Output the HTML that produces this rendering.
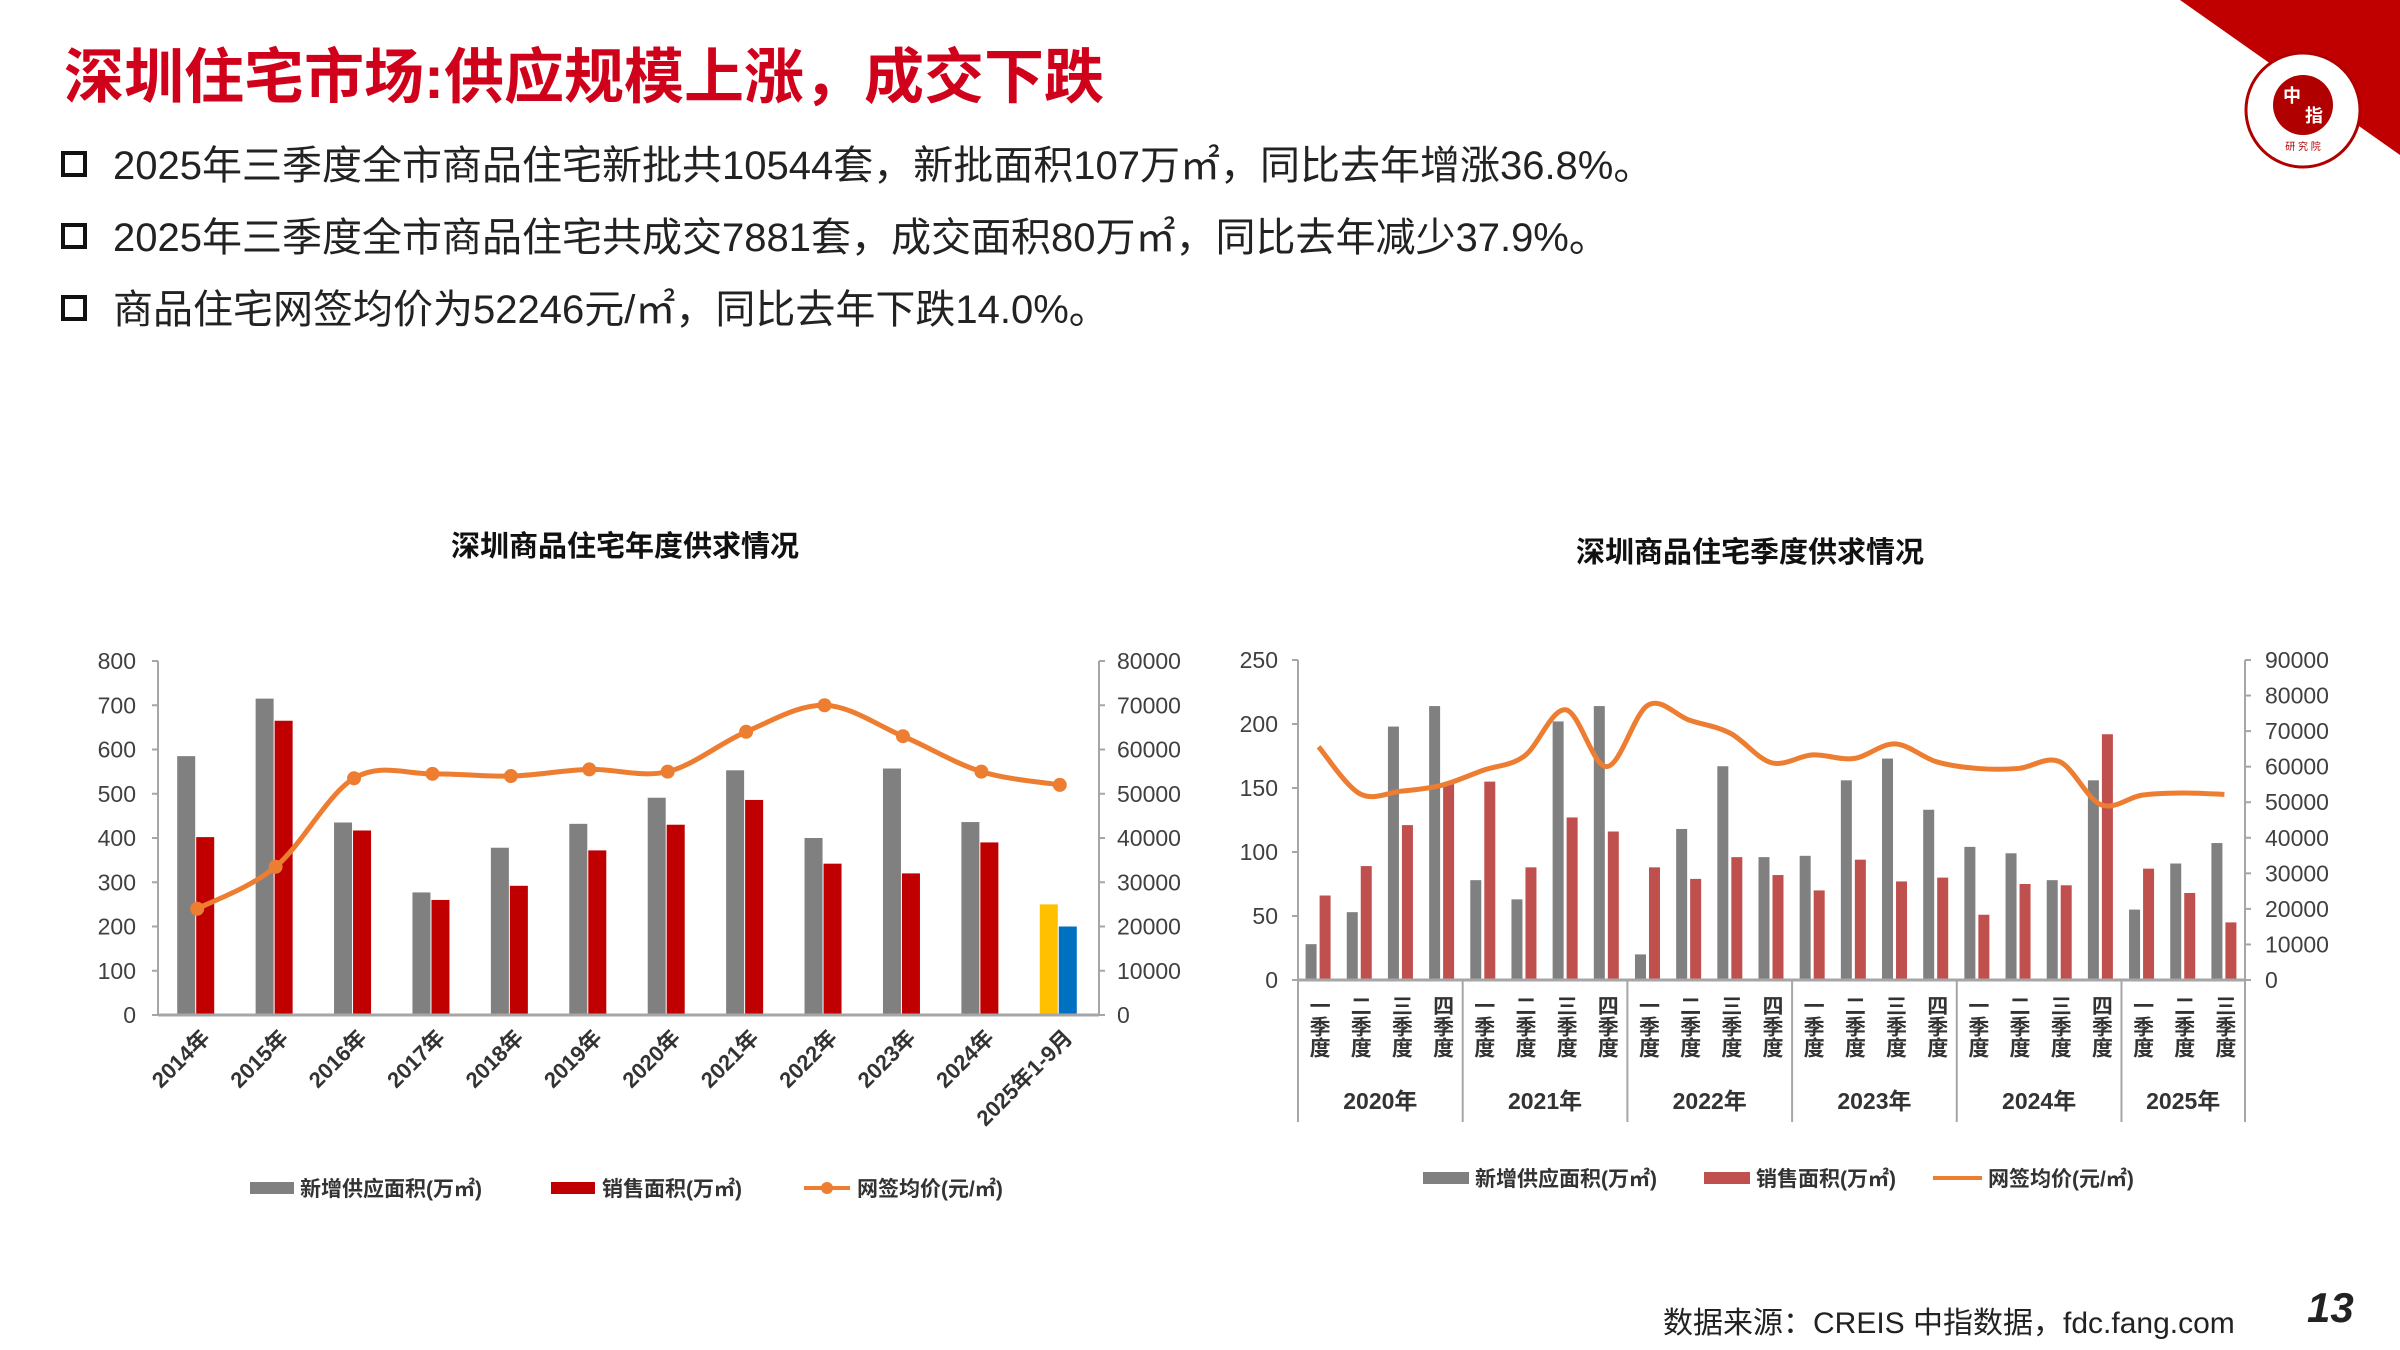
<!DOCTYPE html>
<html><head><meta charset="utf-8"><style>
html,body{margin:0;padding:0;background:#fff;}
svg{display:block;font-family:"Liberation Sans","Noto Sans CJK SC",sans-serif;}
</style></head><body>
<svg id="s" width="2400" height="1350" viewBox="0 0 2400 1350" xmlns="http://www.w3.org/2000/svg">
<polygon points="2180,0 2400,0 2400,155" fill="#c00000"/>
<g>
<circle cx="2303" cy="110" r="57" fill="#fff" stroke="#b00000" stroke-width="3"/>
<circle cx="2303" cy="105" r="30" fill="#b00000"/>
<text x="2292" y="102" font-size="18" fill="#fff" text-anchor="middle" font-weight="bold">中</text>
<text x="2314" y="122" font-size="18" fill="#fff" text-anchor="middle" font-weight="bold">指</text>
<text x="2303" y="150" font-size="10" fill="#b00000" text-anchor="middle">研 究 院</text>
</g>
<text x="64" y="98" font-size="60" font-weight="bold" fill="#d0021b">深圳住宅市场:供应规模上涨，成交下跌</text>
<g font-size="40" fill="#222">
<rect x="63" y="153" width="22" height="22" fill="none" stroke="#111" stroke-width="4"/>
<text x="113" y="179">2025年三季度全市商品住宅新批共10544套，新批面积107万㎡，同比去年增涨36.8%。</text>
<rect x="63" y="225" width="22" height="22" fill="none" stroke="#111" stroke-width="4"/>
<text x="113" y="251">2025年三季度全市商品住宅共成交7881套，成交面积80万㎡，同比去年减少37.9%。</text>
<rect x="63" y="297" width="22" height="22" fill="none" stroke="#111" stroke-width="4"/>
<text x="113" y="323">商品住宅网签均价为52246元/㎡，同比去年下跌14.0%。</text>
</g>
<text x="625" y="556" font-size="29" font-weight="bold" text-anchor="middle" fill="#111">深圳商品住宅年度供求情况</text>
<text x="1750" y="562" font-size="29" font-weight="bold" text-anchor="middle" fill="#111">深圳商品住宅季度供求情况</text>
<g id="left"></g>
<g id="right"></g>
<g font-size="21" fill="#333" font-weight="bold">
<rect x="250" y="1182" width="44" height="12" fill="#808080"/><text x="300" y="1196">新增供应面积(万㎡)</text>
<rect x="551" y="1182" width="44" height="12" fill="#c00000"/><text x="602" y="1196">销售面积(万㎡)</text>
<line x1="804" y1="1188" x2="850" y2="1188" stroke="#ed7d31" stroke-width="4"/><circle cx="827" cy="1188" r="6" fill="#ed7d31"/><text x="857" y="1196">网签均价(元/㎡)</text>
</g>
<g font-size="21" fill="#333" font-weight="bold">
<rect x="1423" y="1172" width="46" height="12" fill="#808080"/><text x="1475" y="1186">新增供应面积(万㎡)</text>
<rect x="1704" y="1172" width="46" height="12" fill="#c0504d"/><text x="1756" y="1186">销售面积(万㎡)</text>
<line x1="1933" y1="1178" x2="1982" y2="1178" stroke="#ed7d31" stroke-width="4"/><text x="1988" y="1186">网签均价(元/㎡)</text>
</g>
<text x="1663" y="1333" font-size="30" fill="#222">数据来源：CREIS 中指数据，fdc.fang.com</text>
<text x="2307" y="1322" font-size="42" font-weight="bold" font-style="italic" fill="#222">13</text>
</svg>
<script>
const annualCats=["2014年","2015年","2016年","2017年","2018年","2019年","2020年","2021年","2022年","2023年","2024年","2025年1-9月"];
const annualSupply=[585,715,435,277,378,432,491,553,400,557,436,250];
const annualSales=[402,665,417,260,292,372,430,486,342,320,390,200];
const annualPrice=[24000,33500,53500,54500,54000,55500,55000,64000,70000,63000,55000,52000];
const leftTicks=[0,100,200,300,400,500,600,700,800];
const rightTicksA=[0,10000,20000,30000,40000,50000,60000,70000,80000];
const qYears=["2020年","2021年","2022年","2023年","2024年","2025年"];
const qPerYear=[4,4,4,4,4,3];
const qNames=["一季度","二季度","三季度","四季度"];
const qSupply=[28,53,198,214,78,63,202,214,20,118,167,96,97,156,173,133,104,99,78,156,55,91,107];
const qSales=[66,89,121,154,155,88,127,116,88,79,96,82,70,94,77,80,51,75,74,192,87,68,45];
const qPrice=[65600,52400,53100,54800,59000,63000,76000,60000,77300,73100,69400,61100,63300,62300,66400,61400,59500,59500,61400,49300,52000,52600,52200];
const qLeftTicks=[0,50,100,150,200,250];
const qRightTicks=[0,10000,20000,30000,40000,50000,60000,70000,80000,90000];
const NS="http://www.w3.org/2000/svg";
function mk(p,t,a,txt){const e=document.createElementNS(NS,t);for(const k in a)e.setAttribute(k,a[k]);if(txt!==undefined)e.textContent=txt;p.appendChild(e);return e;}
function spline(pts){let d="M"+pts[0][0]+","+pts[0][1];for(let i=0;i<pts.length-1;i++){const p0=pts[i-1]||pts[i],p1=pts[i],p2=pts[i+1],p3=pts[i+2]||p2;const c1=[p1[0]+(p2[0]-p0[0])/6,p1[1]+(p2[1]-p0[1])/6],c2=[p2[0]-(p3[0]-p1[0])/6,p2[1]-(p3[1]-p1[1])/6];d+=" C"+c1+" "+c2+" "+p2;}return d;}
(function(){
const g=document.getElementById('left');
const X0=158,X1=1099,Y0=1015,YT=661,cw=(X1-X0)/annualCats.length;
const yL=v=>Y0-v/800*(Y0-YT), yR=v=>Y0-v/80000*(Y0-YT), xc=i=>X0+(i+0.5)*cw;
mk(g,'line',{x1:X0,y1:YT,x2:X0,y2:Y0,stroke:'#a6a6a6','stroke-width':2});
mk(g,'line',{x1:X1,y1:YT,x2:X1,y2:Y0,stroke:'#a6a6a6','stroke-width':2});
leftTicks.forEach(t=>{mk(g,'line',{x1:X0-6,x2:X0,y1:yL(t),y2:yL(t),stroke:'#a6a6a6','stroke-width':2});
const e=mk(g,'text',{x:X0-22,y:yL(t)+8,'text-anchor':'end','font-size':23,fill:'#404040'},t);

});
rightTicksA.forEach(t=>{mk(g,'line',{x1:X1,x2:X1+6,y1:yR(t),y2:yR(t),stroke:'#a6a6a6','stroke-width':2});
const e=mk(g,'text',{x:X1+18,y:yR(t)+8,'font-size':23,fill:'#404040'},t);

});
annualCats.forEach((c,i)=>{const last=i===annualCats.length-1;
const b1=mk(g,'rect',{x:xc(i)-20,y:yL(annualSupply[i]),width:18,height:Y0-yL(annualSupply[i]),fill:last?'#ffc000':'#808080'});


const b2=mk(g,'rect',{x:xc(i)-1,y:yL(annualSales[i]),width:18,height:Y0-yL(annualSales[i]),fill:last?'#0070c0':'#c00000'});


const t=mk(g,'text',{x:0,y:0,'text-anchor':'end','font-size':22,'font-weight':'bold',fill:'#333',transform:`translate(${xc(i)+14},${Y0+24}) rotate(-45)`},c);

});
mk(g,'line',{x1:X0,y1:Y0,x2:X1,y2:Y0,stroke:'#a6a6a6','stroke-width':3});
const pts=annualPrice.map((v,i)=>[xc(i),yR(v)]);
const l=mk(g,'path',{d:spline(pts),fill:'none',stroke:'#ed7d31','stroke-width':5});


pts.forEach(p=>{const c=mk(g,'circle',{cx:p[0],cy:p[1],r:7,fill:'#ed7d31'});

});
})();
(function(){
const g=document.getElementById('right');
const X0=1298,X1=2245,Y0=980,YT=660,n=qSupply.length,cw=(X1-X0)/n;
const yL=v=>Y0-v/250*(Y0-YT), yR=v=>Y0-v/90000*(Y0-YT), xc=i=>X0+(i+0.5)*cw;
mk(g,'line',{x1:X0,y1:YT,x2:X0,y2:Y0,stroke:'#a6a6a6','stroke-width':2});
mk(g,'line',{x1:X1,y1:YT,x2:X1,y2:Y0,stroke:'#a6a6a6','stroke-width':2});
qLeftTicks.forEach(t=>{mk(g,'line',{x1:X0-6,x2:X0,y1:yL(t),y2:yL(t),stroke:'#a6a6a6','stroke-width':2});
const e=mk(g,'text',{x:X0-20,y:yL(t)+8,'text-anchor':'end','font-size':23,fill:'#404040'},t);

});
qRightTicks.forEach(t=>{mk(g,'line',{x1:X1,x2:X1+6,y1:yR(t),y2:yR(t),stroke:'#a6a6a6','stroke-width':2});
const e=mk(g,'text',{x:X1+20,y:yR(t)+8,'font-size':23,fill:'#404040'},t);

});
for(let i=0;i<n;i++){
const b1=mk(g,'rect',{x:xc(i)-13,y:yL(qSupply[i]),width:11,height:Y0-yL(qSupply[i]),fill:'#808080'});


const b2=mk(g,'rect',{x:xc(i)+1,y:yL(qSales[i]),width:11,height:Y0-yL(qSales[i]),fill:'#c0504d'});

}
mk(g,'line',{x1:X0,y1:Y0,x2:X1,y2:Y0,stroke:'#a6a6a6','stroke-width':3});
let k=0;
mk(g,'line',{x1:X0,y1:Y0,x2:X0,y2:1122,stroke:'#a6a6a6','stroke-width':2});
qYears.forEach((y,j)=>{const s=k;
for(let q=0;q<qPerYear[j];q++){const t=mk(g,'text',{x:xc(k),y:995,'font-size':21,'font-weight':'bold',fill:'#333',style:'writing-mode:vertical-rl;text-orientation:upright'},qNames[q]);

k++;}
const xe=X0+k*cw;
mk(g,'line',{x1:xe,y1:Y0,x2:xe,y2:1122,stroke:'#a6a6a6','stroke-width':2});
const yt=mk(g,'text',{x:(X0+s*cw+xe)/2,y:1109,'text-anchor':'middle','font-size':23,'font-weight':'bold',fill:'#333'},y);

});
const pts=qPrice.map((v,i)=>[xc(i),yR(v)]);
const l=mk(g,'path',{d:spline(pts),fill:'none',stroke:'#ed7d31','stroke-width':5});


})();
</script>
</body></html>
